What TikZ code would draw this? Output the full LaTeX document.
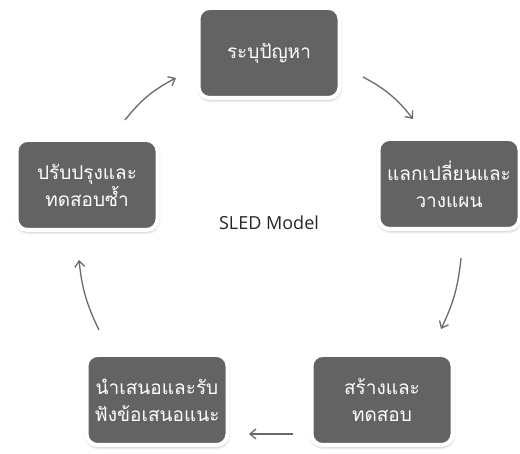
\documentclass[tikz,border=0pt]{standalone}
\usepackage{fontspec}
\newfontfamily\thaifont[Script=Thai]{Loma}
\setmainfont{Open Sans}
\usetikzlibrary{arrows.meta,shadows.blur}
\definecolor{boxgray}{RGB}{99,99,99}
\definecolor{arrowgray}{RGB}{105,105,105}
\tikzset{
  stepbox/.style={draw=white, line width=4pt, fill=boxgray, rounded corners=11pt,
    minimum width=141pt, minimum height=90pt, inner sep=0pt,
    text=white, align=center, font=\thaifont\fontsize{19}{27}\selectfont,
    blur shadow={shadow blur steps=6, shadow xshift=0.5pt, shadow yshift=-2pt, shadow opacity=30, shadow blur radius=3pt}},
  flow/.style={draw=arrowgray, line width=1.3pt, -{Straight Barb[length=6pt,width=10pt,line width=1.3pt]}},
}
\begin{document}
\begin{tikzpicture}[x=1pt,y=1pt]
\useasboundingbox (0,0) rectangle (520,454);
\node[stepbox] (top) at (269,401) {ระบุปัญหา};
\node[stepbox] (right) at (449,270) {แลกเปลี่ยนและ\\วางแผน};
\node[stepbox] (br) at (382,54) {สร้างและ\\ทดสอบ};
\node[stepbox] (bl) at (157,54) {นำเสนอและรับ\\ฟังข้อเสนอแนะ};
\node[stepbox] (left) at (87,269) {ปรับปรุงและ\\ทดสอบซ้ำ};
\node[font=\fontsize{18}{20}\selectfont, text=black!85] (title) at (269,231) {SLED Model};
\coordinate (a1s) at (125,334); \coordinate (a1e) at (176,376);
\coordinate (a2s) at (363,377); \coordinate (a2e) at (413,335);
\coordinate (a3s) at (461,196); \coordinate (a3e) at (441,125);
\coordinate (a4s) at (293,20);  \coordinate (a4e) at (249,20);
\coordinate (a5s) at (99,124);  \coordinate (a5e) at (79,194);
\draw[flow] (a1s) to[bend left=12] (a1e);
\draw[flow] (a2s) to[bend left=12] (a2e);
\draw[flow] (a3s) to[bend left=10] (a3e);
\draw[flow] (a4s) -- (a4e);
\draw[flow] (a5s) to[bend left=10] (a5e);
\end{tikzpicture}
\end{document}
